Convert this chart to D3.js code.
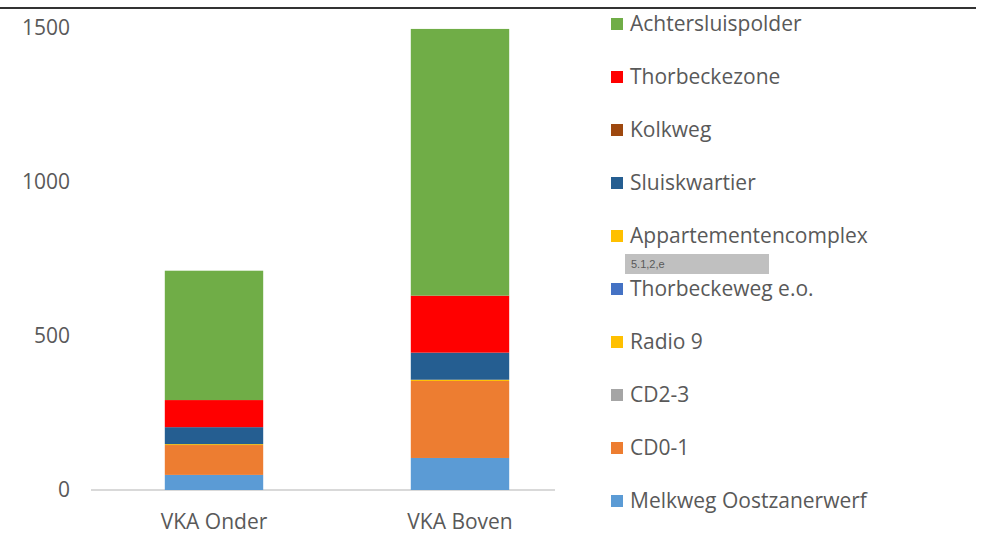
<!DOCTYPE html>
<html>
<head>
<meta charset="utf-8">
<script src="https://cdn.jsdelivr.net/npm/d3@7"></script>
<style>
  html, body { margin: 0; padding: 0; background: #fff; }
  svg { display: block; }
  text { font-family: "Open Sans", sans-serif; fill: #595959; }
</style>
</head>
<body>
<svg id="chart" width="988" height="538"></svg>
<script>
// Categories (x axis)
const categories = ["VKA Onder", "VKA Boven"];

// Series, stacked bottom to top
const seriesNames = [
  "Melkweg Oostzanerwerf", "CD0-1", "CD2-3", "Radio 9", "Thorbeckeweg e.o.",
  "Appartementencomplex", "Sluiskwartier", "Kolkweg", "Thorbeckezone", "Achtersluispolder"
];
const seriesColors = [
  "#5b9bd5", "#ed7d31", "#a5a5a5", "#ffc000", "#4472c4",
  "#ffc000", "#255e91", "#9e480e", "#ff0000", "#70ad47"
];
// Values per series, one entry per category
const melkweg        = [49, 104];
const cd01           = [97, 250];
const cd23           = [0, 0];
const radio9         = [3, 4];
const thorbeckeweg   = [0, 0];
const appartementen  = [0, 0];
const sluiskwartier  = [55, 88];
const kolkweg        = [0, 0];
const thorbeckezone  = [88, 185];
const achtersluis    = [420, 866];
const seriesValues = [melkweg, cd01, cd23, radio9, thorbeckeweg,
  appartementen, sluiskwartier, kolkweg, thorbeckezone, achtersluis];

const yTicks = [0, 500, 1000, 1500];

const FONT = 21;
const svg = d3.select("#chart");

// Header rule along the top edge
svg.append("line")
  .attr("x1", 0).attr("x2", 976).attr("y1", 8).attr("y2", 8)
  .attr("stroke", "#333").attr("stroke-width", 2);

const x = d3.scaleBand().domain(categories).range([91, 583]).paddingInner(0.6).paddingOuter(0.3);
const y = d3.scaleLinear().domain([0, 1500]).range([490, 28]);

// Build table for stacking
const table = categories.map((c, i) => {
  const row = { category: c };
  seriesNames.forEach((s, j) => { row[s] = seriesValues[j][i]; });
  return row;
});
const stacked = d3.stack().keys(seriesNames)(table);

// Y axis labels
const yAxis = d3.axisLeft(y).tickValues(yTicks).tickFormat(d3.format("d")).tickSize(0).tickPadding(0);
const gy = svg.append("g").attr("transform", "translate(70,0)").call(yAxis);
gy.select(".domain").remove();
gy.selectAll("text").attr("font-size", FONT).style("font-family", "'Open Sans', sans-serif").attr("fill", "#595959");

// Baseline
svg.append("line")
  .attr("x1", 91).attr("x2", 555).attr("y1", y(0)).attr("y2", y(0))
  .attr("stroke", "#d9d9d9").attr("stroke-width", 2);

// Stacked bars
svg.append("g").selectAll("g").data(stacked).join("g")
  .attr("fill", (d, i) => seriesColors[i])
  .selectAll("rect").data(d => d).join("rect")
  .attr("x", d => x(d.data.category))
  .attr("width", x.bandwidth())
  .attr("y", d => y(d[1]))
  .attr("height", d => y(d[0]) - y(d[1]));

// X axis labels
const xAxis = d3.axisBottom(x).tickSize(0).tickPadding(0);
const gx = svg.append("g").attr("transform", "translate(0,514)").call(xAxis);
gx.select(".domain").remove();
gx.selectAll("text").attr("font-size", FONT).style("font-family", "'Open Sans', sans-serif").attr("fill", "#595959");

// Legend, topmost series first
const legendOrder = seriesNames.map((s, i) => i).reverse();
const legend = svg.append("g");
legendOrder.forEach((idx, k) => {
  const ly = 24 + k * 53;
  legend.append("rect")
    .attr("x", 611).attr("y", ly - 6).attr("width", 12).attr("height", 12)
    .attr("fill", seriesColors[idx]);
  legend.append("text")
    .attr("x", 630).attr("y", ly).attr("dy", "0.35em")
    .attr("font-size", FONT).text(seriesNames[idx]);
});

// Redaction label in the legend
svg.append("rect")
  .attr("x", 625).attr("y", 254).attr("width", 144).attr("height", 20)
  .attr("fill", "#c0c0c0");
svg.append("text")
  .attr("x", 631).attr("y", 264).attr("dy", "0.35em")
  .attr("font-size", 11).style("font-family", "Arial, 'Liberation Sans', sans-serif")
  .attr("fill", "#000").text("5.1,2,e");
</script>
</body>
</html>
